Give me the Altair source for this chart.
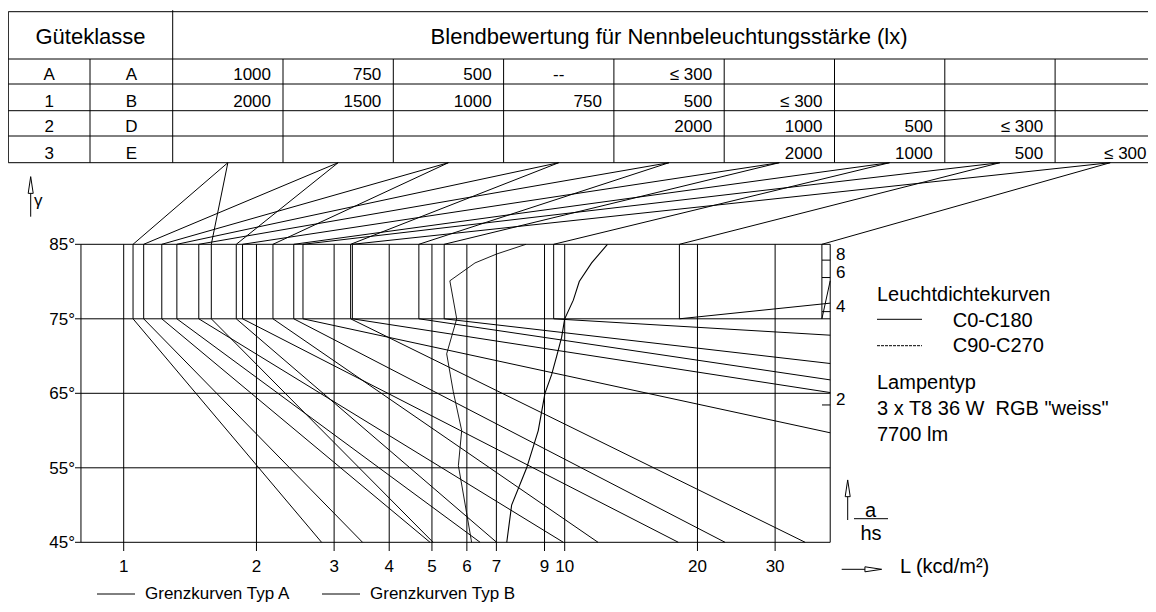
import math
import altair as alt
import pandas as pd

# ------------------------------------------------------------------ data
X_TICKS = [1, 2, 3, 4, 5, 6, 7, 9, 10, 20, 30]
X_TICK_LABELS = ["1", "2", "3", "4", "5", "6", "7", "9", "10", "20", "30"]
Y_TICKS = [45, 55, 65, 75, 85]
Y_TICK_LABELS = ["45°", "55°", "65°", "75°", "85°"]
AHS_TICKS = [8, 6, 4, 2]
AHS_TICK_LABELS = ["8", "6", "4", "2"]

L_MIN, L_MAX = 0.8, 40.0
G_MIN, G_MAX = 45, 85
G_KNEE = 75

TABLE_HEADER = ["Güteklasse", "Blendbewertung für Nennbeleuchtungsstärke (lx)"]
TABLE_CLASS_1 = ["A", "1", "2", "3"]
TABLE_CLASS_2 = ["A", "B", "D", "E"]
TABLE_ROW_A = ["1000", "750", "500", "--", "≤ 300", "", "", "", ""]
TABLE_ROW_1 = ["2000", "1500", "1000", "750", "500", "≤ 300", "", "", ""]
TABLE_ROW_2 = ["", "", "", "", "2000", "1000", "500", "≤ 300", ""]
TABLE_ROW_3 = ["", "", "", "", "", "2000", "1000", "500", "≤ 300"]

# Grenzkurven: table column, luminance 85°-75°, end point of the lower branch
CURVE_TYPE = ["A", "A", "A", "A", "A", "B", "B", "A", "B",
              "A", "A", "B", "A", "B", "B", "B", "B", "B"]
CURVE_COLUMN = [1, 2, 3, 4, 5, 1, 2, 6, 3, 7, 8, 4, 9, 5, 6, 7, 8, 9]
CURVE_L_TOP = [1.05, 1.11, 1.22, 1.32, 1.48, 1.58, 1.80, 1.86, 2.18,
               2.43, 2.55, 3.27, 3.30, 4.67, 5.33, 9.44, 18.2, 38.3]
CURVE_END_L = [2.81, 3.48, 4.95, 6.43, 9.93, 5.03, 7.01, 18.1, 11.9,
               23.1, 40, 35.1, 40, 40, 40, 40, 40, 40]
CURVE_END_G = [45, 45, 45, 45, 45, 45, 45, 45, 45,
               45, 59.7, 45, 65.1, 66.8, 69.0, 72.8, 77.1, 80.1]

# Leuchtdichtekurven
C0_GAMMA = [45, 50, 55, 60, 65, 67.5, 70, 72.5, 75, 77.5, 80, 82.5, 85]
C0_L = [7.39, 7.58, 8.2, 8.71, 9.02, 9.34, 9.59, 9.84, 10.0, 10.46, 10.79, 11.51, 12.5]
C90_GAMMA = [45, 49, 55.3, 60, 65.2, 70.3, 75, 80.1, 82.5, 83.7, 85]
C90_L = [6.15, 5.99, 5.74, 5.84, 5.59, 5.40, 5.69, 5.49, 6.26, 7.01, 8.17]

LEGEND_TITLE = "Leuchtdichtekurven"
LEGEND_C0 = "C0-C180"
LEGEND_C90 = "C90-C270"
LAMP_LINES = ["Lampentyp", "3 x T8 36 W\u00a0\u00a0RGB \"weiss\"", "7700 lm"]
X_TITLE = "L (kcd/m²)"
Y_TITLE = "γ"
R_TITLE_TOP, R_TITLE_BOTTOM = "a", "hs"
TYPE_LABELS = ["Grenzkurven Typ A", "Grenzkurven Typ B"]

# ------------------------------------------------------------------ layout
FONT = "Liberation Sans"
MARGIN = 8
W, H = 1140, 596
PX_PER_DECADE = 441.0
PX_AT_L1 = 123.7
PX_PER_DEG = 7.45
PY_AT_85 = 244.3
PX_RIGHT = MARGIN + W


def Lx(px):
    return 10 ** ((px - PX_AT_L1) / PX_PER_DECADE)


def Gy(py):
    return G_MAX + (PY_AT_85 - py) / PX_PER_DEG


x_scale = alt.Scale(type="log", domain=[Lx(MARGIN), Lx(MARGIN + W)], nice=False, zero=False)
y_scale = alt.Scale(domain=[Gy(MARGIN + H), Gy(MARGIN)], nice=False, zero=False)
X = alt.X("x:Q", scale=x_scale, axis=None)
Y = alt.Y("y:Q", scale=y_scale, axis=None)

# table geometry (page pixels)
T_LEFT, T_SPLIT, T_VAL = 8.3, 90.0, 172.7
COL_W = 110.3
T_RIGHT = T_VAL + 9 * COL_W
T_TOP, T_HEAD = 11.7, 59.0
ROW_BOTTOMS = [84.0, 110.7, 136.0, 162.7]
ROW_BASE = [80.0, 106.5, 132.0, 158.5]


def col_center(k):
    return T_VAL + (k - 0.5) * COL_W


# ------------------------------------------------------------------ rules
thin = []


def seg(rows, x1, y1, x2, y2):
    rows.append(dict(x=x1, y=y1, x2=x2, y2=y2))


# frame and grid
for g in [G_MIN, G_MAX]:
    seg(thin, L_MIN, g, L_MAX, g)
for L in [L_MIN, L_MAX]:
    seg(thin, L, G_MIN, L, G_MAX)
for g in Y_TICKS:
    seg(thin, Lx(75), g, L_MIN, g)
    if G_MIN < g < G_MAX:
        seg(thin, L_MIN, g, L_MAX, g)
for L in X_TICKS:
    seg(thin, L, Gy(551), L, G_MAX)
for v in AHS_TICKS:
    g = math.degrees(math.atan(v))
    seg(thin, Lx(822), g, L_MAX, g)

# table
for py in [T_TOP, T_HEAD] + ROW_BOTTOMS:
    seg(thin, Lx(T_LEFT), Gy(py), Lx(T_RIGHT), Gy(py))
for px in [T_LEFT, T_VAL, T_RIGHT]:
    seg(thin, Lx(px), Gy(T_TOP - 1.5 if px == T_VAL else T_TOP), Lx(px), Gy(ROW_BOTTOMS[-1]))
seg(thin, Lx(T_SPLIT), Gy(T_HEAD), Lx(T_SPLIT), Gy(ROW_BOTTOMS[-1]))
for k in range(1, 9):
    px = T_VAL + k * COL_W
    seg(thin, Lx(px), Gy(T_HEAD), Lx(px), Gy(ROW_BOTTOMS[-1]))

# arrows / fraction bar / legend samples
LEG_Y = 594
seg(thin, Lx(30.7), Gy(193.3), Lx(30.7), Gy(216.7))          # gamma arrow stem
seg(thin, Lx(847.7), Gy(496.7), Lx(847.7), Gy(520))          # a/hs arrow stem
seg(thin, Lx(841.7), Gy(569.3), Lx(865), Gy(569.3))          # L arrow stem
seg(thin, Lx(854), Gy(518.7), Lx(888), Gy(518.7))            # fraction bar
seg(thin, Lx(877), Gy(319.3), Lx(922), Gy(319.3))            # C0 sample
seg(thin, Lx(97), Gy(LEG_Y), Lx(135), Gy(LEG_Y))             # Typ A sample
seg(thin, Lx(322), Gy(LEG_Y), Lx(360), Gy(LEG_Y))            # Typ B sample

dashed = []
seg(dashed, Lx(877), Gy(345.7), Lx(922), Gy(345.7))          # C90 sample

rules = alt.Chart(pd.DataFrame(thin)).mark_rule(color="black", strokeWidth=1).encode(
    x=X, x2="x2:Q", y=Y, y2="y2:Q")
rules_dashed = alt.Chart(pd.DataFrame(dashed)).mark_rule(
    color="black", strokeWidth=1, strokeDash=[3, 1]).encode(x=X, x2="x2:Q", y=Y, y2="y2:Q")

# ------------------------------------------------------------------ Grenzkurven
pts = []
g_table = Gy(ROW_BOTTOMS[-1])
for i, (col, lt, le, ge) in enumerate(zip(CURVE_COLUMN, CURVE_L_TOP, CURVE_END_L, CURVE_END_G)):
    chain = [(Lx(col_center(col)), g_table), (lt, G_MAX), (lt, G_KNEE), (le, ge)]
    for o, (x, y) in enumerate(chain):
        pts.append(dict(x=x, y=y, id=f"{CURVE_TYPE[i]}{i}", o=o))
curves = alt.Chart(pd.DataFrame(pts)).mark_line(color="black", strokeWidth=1).encode(
    x=X, y=Y, detail="id:N", order="o:Q")

c0 = alt.Chart(pd.DataFrame(dict(x=C0_L, y=C0_GAMMA, o=range(len(C0_L))))).mark_line(
    color="black", strokeWidth=1.1).encode(x=X, y=Y, order="o:Q")
c90 = alt.Chart(pd.DataFrame(dict(x=C90_L, y=C90_GAMMA, o=range(len(C90_L))))).mark_line(
    color="black", strokeWidth=0.9).encode(x=X, y=Y, order="o:Q")

# ------------------------------------------------------------------ arrowheads
UP = "M0,-1L0.3,1L-0.3,1Z"
RIGHT = "M1,0L-1,0.3L-1,-0.3Z"
heads_up = alt.Chart(pd.DataFrame(dict(x=[Lx(30.7), Lx(847.7)], y=[Gy(185), Gy(488.3)]))).mark_point(
    shape=UP, size=280, filled=True, fill="white", stroke="black", strokeWidth=1, opacity=1
).encode(x=X, y=Y)
head_right = alt.Chart(pd.DataFrame(dict(x=[Lx(873.3)], y=[Gy(569.3)]))).mark_point(
    shape=RIGHT, size=280, filled=True, fill="white", stroke="black", strokeWidth=1, opacity=1
).encode(x=X, y=Y)

# ------------------------------------------------------------------ texts
def text_layer(rows, size, align):
    df = pd.DataFrame([r for r in rows if r["t"] != ""])
    return alt.Chart(df).mark_text(align=align, baseline="alphabetic", fontSize=size,
                                   font=FONT, color="black").encode(x=X, y=Y, text="t:N")


t17_center, t17_right, t17_left = [], [], []
t20_left, t20_center = [], []
t22_center = []

for g, lab in zip(Y_TICKS, Y_TICK_LABELS):
    py = PY_AT_85 + (G_MAX - g) * PX_PER_DEG
    t17_right.append(dict(x=Lx(75), y=Gy(py + 6), t=lab))
for L, lab in zip(X_TICKS, X_TICK_LABELS):
    t17_center.append(dict(x=L, y=Gy(571.7), t=lab))
for v, lab in zip(AHS_TICKS, AHS_TICK_LABELS):
    t17_left.append(dict(x=Lx(836), y=math.degrees(math.atan(v)), t=lab))
t17_left.append(dict(x=Lx(34), y=Gy(206), t=Y_TITLE))

# table text
t22_center.append(dict(x=Lx((T_LEFT + T_VAL) / 2), y=Gy(43.5), t=TABLE_HEADER[0]))
t22_center.append(dict(x=Lx((T_VAL + T_RIGHT) / 2), y=Gy(43.5), t=TABLE_HEADER[1]))
for r, (a, b) in enumerate(zip(TABLE_CLASS_1, TABLE_CLASS_2)):
    t17_center.append(dict(x=Lx((T_LEFT + T_SPLIT) / 2), y=Gy(ROW_BASE[r]), t=a))
    t17_center.append(dict(x=Lx((T_SPLIT + T_VAL) / 2), y=Gy(ROW_BASE[r]), t=b))
for r, row in enumerate([TABLE_ROW_A, TABLE_ROW_1, TABLE_ROW_2, TABLE_ROW_3]):
    for k, val in enumerate(row, start=1):
        if val == "--":
            t17_center.append(dict(x=Lx(col_center(k)), y=Gy(ROW_BASE[r]), t=val))
        else:
            px = min(T_VAL + k * COL_W - 12, PX_RIGHT - 1.5)
            t17_right.append(dict(x=Lx(px), y=Gy(ROW_BASE[r]), t=val))

# legend text
t20_left.append(dict(x=Lx(877), y=Gy(301), t=LEGEND_TITLE))
t20_left.append(dict(x=Lx(952.7), y=Gy(326.7), t=LEGEND_C0))
t20_left.append(dict(x=Lx(952.7), y=Gy(352), t=LEGEND_C90))
for py, line in zip([389.3, 415, 441], LAMP_LINES):
    t20_left.append(dict(x=Lx(877), y=Gy(py), t=line))
t20_left.append(dict(x=Lx(900), y=Gy(573.3), t=X_TITLE))
t20_center.append(dict(x=Lx(870.5), y=Gy(516.7), t=R_TITLE_TOP))
t20_center.append(dict(x=Lx(871), y=Gy(540), t=R_TITLE_BOTTOM))
t17_left.append(dict(x=Lx(145), y=Gy(LEG_Y + 5), t=TYPE_LABELS[0]))
t17_left.append(dict(x=Lx(370), y=Gy(LEG_Y + 5), t=TYPE_LABELS[1]))

layers = [
    rules, rules_dashed, curves, c0, c90, heads_up, head_right,
    text_layer(t17_center, 17, "center"),
    text_layer(t17_right, 17, "right"),
    text_layer(t17_left, 17, "left"),
    text_layer(t20_left, 20, "left"),
    text_layer(t20_center, 20, "center"),
    text_layer(t22_center, 22, "center"),
]

chart = alt.layer(*layers).properties(
    width=W, height=H, padding=0, autosize=alt.AutoSizeParams(type="none")
).configure_view(strokeWidth=0)

chart.save("out.html", embed_options={"renderer": "svg", "actions": False})
